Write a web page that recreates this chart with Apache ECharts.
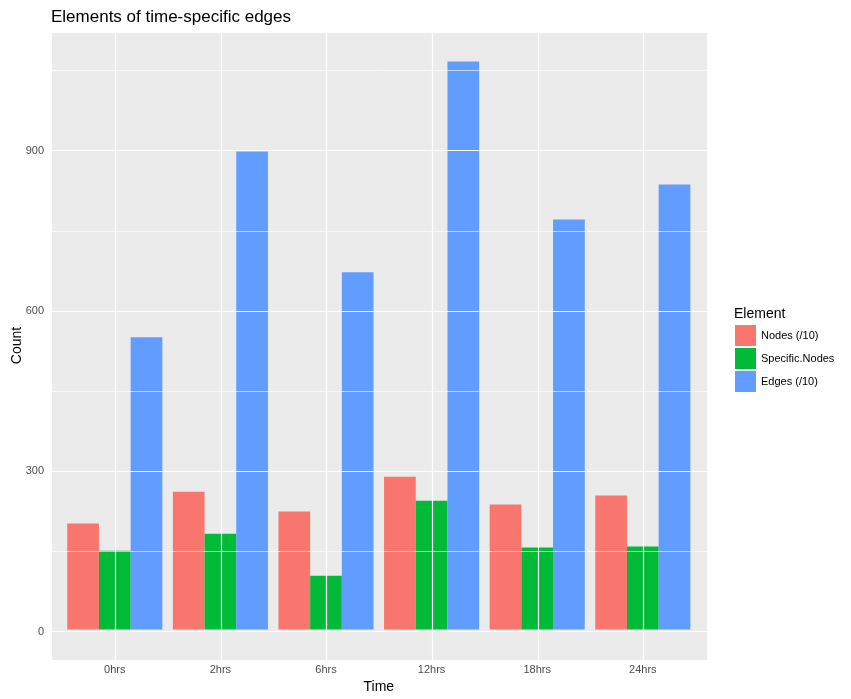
<!DOCTYPE html><html><head><meta charset="utf-8"><script src="https://cdn.jsdelivr.net/npm/echarts@6/dist/echarts.min.js"></script></head><body style="margin:0"><div id="c" style="width:851px;height:699px"></div><script>
const categories=['0hrs','2hrs','6hrs','12hrs','18hrs','24hrs'];
const nodes=[199,259,222,287,235,252];
const specific=[148,180,101,242,154,156];
const edges=[549,898,671,1067,770,836];
const majorTicks=[0,300,600,900];
const minorTicks=[150,450,750,1050];
const ymin=-53.35,ymax=1120.35;
const ch=echarts.init(document.getElementById('c'));
const ml=(arr)=>arr;
ch.setOption({animation:false,
title:[{text:'Elements of time-specific edges',left:46,top:4,textStyle:{fontFamily:'Liberation Sans',fontSize:17,fontWeight:'normal',color:'#000'}},
{text:'Element',left:729,top:302,textStyle:{fontFamily:'Liberation Sans',fontSize:14,fontWeight:'normal',color:'#000'}}],
legend:{orient:'vertical',left:730,top:320,itemWidth:21,itemHeight:21,itemGap:2,icon:'rect',textStyle:{fontFamily:'Liberation Sans',fontSize:11,color:'#000'},data:['Nodes (/10)','Specific.Nodes','Edges (/10)']},
graphic:[{type:'rect',shape:{x:52,y:33,width:655,height:627},style:{fill:'#ebebeb'},z:-10}],
grid:[{left:62,width:633.6,top:33,height:627},{left:52,width:655,top:33,height:627}],
xAxis:[{type:'category',data:categories,gridIndex:0,axisLine:{show:false},axisTick:{alignWithLabel:true,length:4,lineStyle:{color:'#333'}},axisLabel:{fontFamily:'Liberation Sans',fontSize:11,color:'#4d4d4d',margin:6},name:'Time',nameLocation:'middle',nameGap:22,nameTextStyle:{fontFamily:'Liberation Sans',fontSize:14,color:'#000'}},
{type:'value',gridIndex:1,min:0.4,max:6.6,show:false}],
yAxis:[{type:'value',gridIndex:0,min:ymin,max:ymax,axisLine:{show:false},axisTick:{show:false},axisLabel:{show:false},splitLine:{show:false},name:'Count',nameLocation:'middle',nameGap:38,nameTextStyle:{fontFamily:'Liberation Sans',fontSize:14,color:'#000'}},
{type:'value',gridIndex:1,min:ymin,max:ymax,show:false}],
series:[
{type:'line',xAxisIndex:1,yAxisIndex:1,data:[],z:0,markLine:{silent:true,symbol:'none',animation:false,
data:[...minorTicks.map(v=>({yAxis:v,lineStyle:{color:'#fff',width:0.6,type:'solid'},label:{show:false}})),
...majorTicks.map(v=>({yAxis:v,lineStyle:{color:'#fff',width:1.2,type:'solid'},label:{show:true,position:'start',formatter:String(v),distance:8,fontFamily:'Liberation Sans',fontSize:11,color:'#4d4d4d'}})),
...[1,2,3,4,5,6].map(v=>({xAxis:v,lineStyle:{color:'#fff',width:1.2,type:'solid'},label:{show:false}}))]}},
{name:'Nodes (/10)',type:'bar',data:nodes,barWidth:31.7,barGap:'0%',itemStyle:{color:'#F8766D'},z:3},
{name:'Specific.Nodes',type:'bar',data:specific,barWidth:31.7,barGap:'0%',itemStyle:{color:'#00BA38'},z:3},
{name:'Edges (/10)',type:'bar',data:edges,barWidth:31.7,barGap:'0%',itemStyle:{color:'#619CFF'},z:3}]});
</script></body></html>
